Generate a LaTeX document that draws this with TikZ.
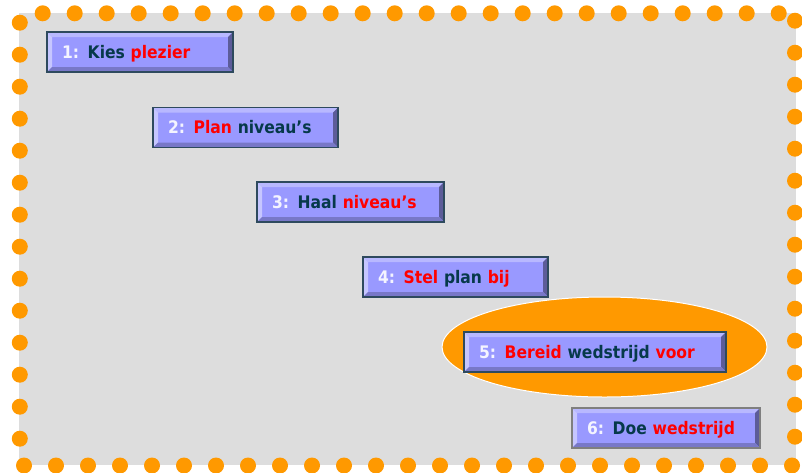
\documentclass[tikz,border=0pt]{standalone}
\usepackage{fontspec}
\setmainfont{DejaVu Sans Condensed}
\usetikzlibrary{shapes.geometric}

\definecolor{canvas}{HTML}{DDDDDD}
\definecolor{dotc}{HTML}{FF9900}
\definecolor{face}{HTML}{9999FF}
\definecolor{rim}{HTML}{2E4A5E}
\definecolor{rimgray}{HTML}{7F7F7F}
\definecolor{bevtop}{HTML}{B8B8FF}
\definecolor{bevleft}{HTML}{C6C6FF}
\definecolor{bevright}{HTML}{5C5C99}
\definecolor{bevbottom}{HTML}{7878C8}
\definecolor{inkdark}{HTML}{06394A}
\definecolor{inkred}{HTML}{FF0000}
\definecolor{inknum}{HTML}{F4F4FF}

\newcommand{\stepno}[1]{\textcolor{inknum}{#1}}
\newcommand{\darkw}[1]{\textcolor{inkdark}{#1}}
\newcommand{\redw}[1]{\textcolor{inkred}{#1}}

\tikzset{
  dot/.style={fill=dotc},
  stepbox/.style={
    rectangle, fill=face, draw=rim, line width=1.2pt,
    inner xsep=15pt, inner ysep=0pt, minimum height=40pt,
    text height=12.6pt, text depth=0pt, align=left,
    font=\bfseries\fontsize{17.3}{20}\selectfont,
    path picture={
      % bevelled frame: light top/left, dark right/bottom
      \fill[bevtop] (path picture bounding box.north west) -- (path picture bounding box.north east)
        -- ([xshift=-5pt,yshift=-5pt]path picture bounding box.north east)
        -- ([xshift=5pt,yshift=-5pt]path picture bounding box.north west) -- cycle;
      \fill[bevleft] (path picture bounding box.north west)
        -- ([xshift=5pt,yshift=-5pt]path picture bounding box.north west)
        -- ([xshift=5pt,yshift=5pt]path picture bounding box.south west)
        -- (path picture bounding box.south west) -- cycle;
      \fill[bevright] (path picture bounding box.north east) -- (path picture bounding box.south east)
        -- ([xshift=-5pt,yshift=5pt]path picture bounding box.south east)
        -- ([xshift=-5pt,yshift=-5pt]path picture bounding box.north east) -- cycle;
      \fill[bevbottom] (path picture bounding box.south west) -- (path picture bounding box.south east)
        -- ([xshift=-5pt,yshift=5pt]path picture bounding box.south east)
        -- ([xshift=5pt,yshift=5pt]path picture bounding box.south west) -- cycle;
    }
  },
  highlight/.style={ellipse, fill=dotc, draw=white, line width=1pt, inner sep=0pt,
    minimum width=325pt, minimum height=100pt}
}

\begin{document}
\begin{tikzpicture}[x=1pt,y=-1pt]
\useasboundingbox (0,0) rectangle (802,472);

% grey sheet with a dotted orange frame
\fill[canvas] (19,13) rectangle (796,465);
\foreach \k in {0,...,23} \fill[dot] (42.7+32*\k,13.3) circle (8);
\foreach \k in {0,...,24} \fill[dot] (24+32*\k,465.5) circle (8);
\foreach \k in {0,...,13} \fill[dot] (19.8,22.7+32*\k) circle (8);
\foreach \k in {0,...,13} \fill[dot] (795,20.7+32*\k) circle (8);

% highlight behind step 5
\node[highlight] (focus) at (604.5,347) {};

% the six steps
\node[stepbox, text width=156pt] (s1) at (140,52)
  {\stepno{1:} \darkw{Kies} \redw{plezier}};
\node[stepbox, text width=155pt] (s2) at (245.5,127.5)
  {\stepno{2:} \redw{Plan} \darkw{niveau’s}};
\node[stepbox, text width=157pt] (s3) at (350.5,202)
  {\stepno{3:} \darkw{Haal} \redw{niveau’s}};
\node[stepbox, text width=155pt] (s4) at (455.5,277)
  {\stepno{4:} \redw{Stel} \darkw{plan} \redw{bij}};
\node[stepbox, text width=232pt] (s5) at (595,352)
  {\stepno{5:} \redw{Bereid} \darkw{wedstrijd} \redw{voor}};
\node[stepbox, draw=rimgray, text width=158pt] (s6) at (666,428)
  {\stepno{6:} \darkw{Doe} \redw{wedstrijd}};
\end{tikzpicture}
\end{document}
